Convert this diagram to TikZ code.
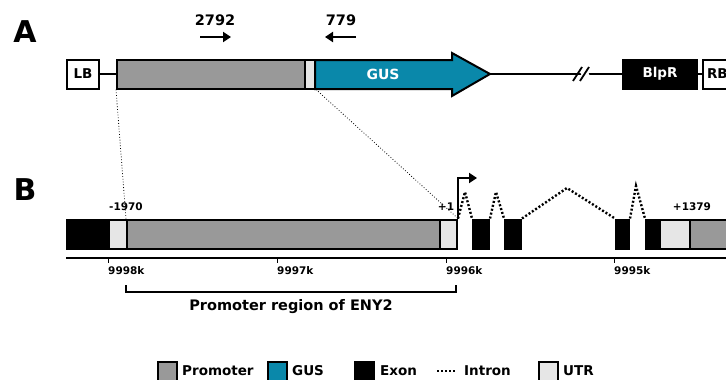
\documentclass[tikz,border=0pt]{standalone}
\usepackage{fontspec}
\setmainfont{DejaVu Sans}
\usetikzlibrary{arrows.meta,positioning}
\definecolor{promgray}{HTML}{999999}
\definecolor{gusblue}{HTML}{0A88AA}
\definecolor{utrgray}{HTML}{E6E6E6}
\tikzset{
  part/.style={draw=black,line width=2pt,minimum height=29pt,inner sep=0pt,anchor=west,
    font=\bfseries\fontsize{13.5}{14}\selectfont},
  lbl/.style={font=\bfseries\fontsize{13.5}{14}\selectfont,inner sep=0pt},
  small/.style={font=\bfseries\fontsize{10.5}{11}\selectfont,inner sep=0pt},
  intron/.style={line width=2.4pt,dash pattern=on 2pt off 2pt},
  zoomline/.style={line width=0.8pt,dotted},
  legbox/.style={draw=black,line width=1.6pt,minimum width=19pt,minimum height=20pt,inner sep=0pt,anchor=north west}
}
\begin{document}
\begin{tikzpicture}[x=1pt,y=-1pt]
  \useasboundingbox (0,0) rectangle (726,380);
  \clip (0,0) rectangle (726,380);
  % panel letters
  \node[font=\bfseries\fontsize{30}{30}\selectfont,inner sep=0pt] (panA) at (25,32) {A};
  \node[font=\bfseries\fontsize{30}{30}\selectfont,inner sep=0pt] (panB) at (25,190) {B};
  % construct
  \node[part,fill=white,minimum width=32pt] (lb) at (66,74) {LB};
  \node[part,fill=promgray,minimum width=188pt] (prom) at (116,74) {};
  \node[part,fill=utrgray,minimum width=10pt] (utr) at (304,74) {};
  \draw[line width=2pt,fill=gusblue] (315,60) -- (452,60) -- (452,53) -- (490,74)
     -- (452,96) -- (452,89) -- (315,89) -- cycle;
  \node[lbl,text=white,font=\bfseries\fontsize{14}{14}\selectfont] (gus) at (383,74) {GUS};
  \coordinate (gustip) at (490,74);
  \node[part,fill=black,text=white,minimum width=74pt] (blpr) at (622,74) {BlpR};
  \node[part,fill=white,minimum width=40pt,text width=36pt,align=left] (rb) at (702,74) {\hspace*{2pt}RB};
  \draw[line width=2.6pt] (lb) -- (prom);
  \draw[line width=2.6pt] (gustip) -- (blpr);
  \draw[line width=2.6pt] (blpr) -- (rb);
  % break mark
  \fill[white] (578,66) -- (586,66) -- (592,82) -- (584,82) -- cycle;
  \draw[line width=1.8pt] (573,81) -- (582,67) (580,81) -- (589,67);
  % primers
  \node[lbl,font=\bfseries\fontsize{14.5}{15}\selectfont] (p2792) at (215,20) {2792};
  \node[lbl,font=\bfseries\fontsize{14.5}{15}\selectfont] (p779) at (341,20) {779};
  \draw[line width=2.4pt,-{Triangle[length=8pt,width=10pt]}] (200,37) -- (231,37);
  \draw[line width=2.4pt,-{Triangle[length=8pt,width=10pt]}] (356,37) -- (325,37);
  % gene model
  \node[part,fill=black,minimum width=42pt] (ex0) at (66,234) {};
  \node[part,fill=utrgray,minimum width=18pt] (utr0) at (108,234) {};
  \node[part,fill=promgray,minimum width=313pt] (promB) at (126,234) {};
  \node[part,fill=utrgray,minimum width=17pt] (utr1) at (439,234) {};
  \node[part,fill=black,minimum width=16pt] (ex1) at (472,234) {};
  \node[part,fill=black,minimum width=16pt] (ex2) at (504,234) {};
  \node[part,fill=black,minimum width=13pt] (ex3) at (615,234) {};
  \node[part,fill=black,minimum width=14pt] (ex4) at (645,234) {};
  \node[part,fill=utrgray,minimum width=30pt] (utr2) at (659,234) {};
  \node[part,fill=promgray,minimum width=60pt] (prom2) at (689,234) {};
  % introns
  \draw[intron] (utr1.north east) -- (465,192) -- (ex1.north west);
  \draw[intron] (ex1.north east) -- (496,192) -- (ex2.north west);
  \draw[intron] (ex2.north east) -- (567,188) -- (ex3.north west);
  \draw[intron] (ex3.north east) -- (636,186) -- (ex4.north west);
  % TSS
  \draw[line width=2.2pt,-{Triangle[length=8pt,width=10pt]}] (utr1.north east) |- (477,178);
  % coordinates
  \node[small] (m1970) at (126,207) {-1970};
  \node[small] (p1) at (446,207) {+1};
  \node[small] (p1379) at (692,207) {+1379};
  % zoom lines
  \draw[zoomline] (prom.south west) -- (promB.north west);
  \draw[zoomline] (utr.south east) -- (utr1.north east);
  % axis
  \draw[line width=1.3pt] (66,258) -- (726,258);
  \foreach \tx/\tl in {108/9998k,277/9997k,446/9996k,614/9995k}{
    \draw[line width=1pt] (\tx,258) -- (\tx,263);
    \node[small,anchor=west] at (\tx,271) {\tl};
  }
  % promoter region
  \draw[line width=2pt] (126,285) -- (126,292) -- (456,292) -- (456,285);
  \node[lbl,font=\bfseries\fontsize{14.5}{15}\selectfont] (promreg) at (291,307) {Promoter region of ENY2};
  % legend
  \node[legbox,fill=promgray] (lgprom) at (157,361) {};
  \node[lbl,anchor=west] (ltprom) at (182,371) {Promoter};
  \node[legbox,fill=gusblue] (lggus) at (267,361) {};
  \node[lbl,anchor=west] (ltgus) at (292,371) {GUS};
  \node[legbox,fill=black] (lgexon) at (354,361) {};
  \node[lbl,anchor=west] (ltexon) at (380,371) {Exon};
  \draw[line width=2.2pt,dash pattern=on 2pt off 2pt] (437,371) -- (455,371);
  \node[lbl,anchor=west] (ltintron) at (464,371) {Intron};
  \node[legbox,fill=utrgray] (lgutr) at (538,361) {};
  \node[lbl,anchor=west] (ltutr) at (563,371) {UTR};
\end{tikzpicture}
\end{document}
